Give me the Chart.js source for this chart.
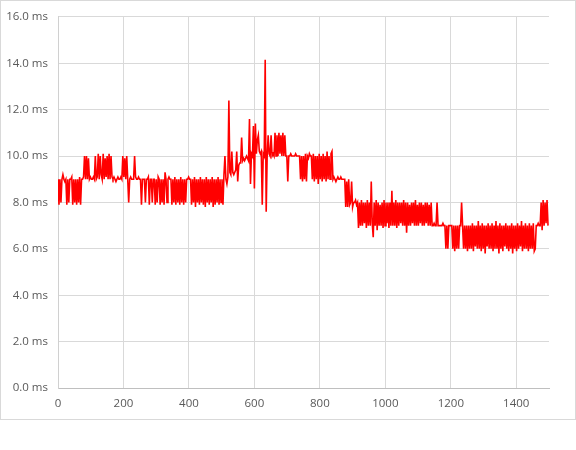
<!DOCTYPE html>
<html>
<head>
<meta charset="utf-8">
<script src="https://cdn.jsdelivr.net/npm/chart.js@4"></script>
<style>
  body { margin: 0; background: #fff; }
  #frame { position: absolute; left: 0; top: 0; width: 576px; height: 420px; box-sizing: border-box; border: 1px solid #d9d9d9; }
  #chart { position: absolute; left: 0; top: 0; }
</style>
</head>
<body>
<div id="frame"></div>
<canvas id="chart" width="576" height="450"></canvas>
<script>
// ===== DATA =====
// one reading every 3 samples (about one per pixel column)
const sampleStep = 3;
const latencyMs = [
  9.0, 7.9, 9.0, 8.0, 9.0, 9.2, 9.0, 8.9, 9.0, 7.9,
  9.0, 8.0, 9.0, 9.0, 9.1, 7.9, 9.0, 8.0, 9.0, 7.9,
  9.0, 8.0, 9.1, 7.9, 9.0, 9.0, 9.1, 10.0, 9.0, 10.0,
  9.0, 9.9, 9.0, 9.1, 9.0, 9.0, 9.1, 9.0, 10.0, 9.0,
  9.1, 10.1, 9.0, 10.0, 9.2, 9.0, 10.1, 9.0, 9.9, 9.1,
  10.0, 9.0, 10.1, 9.0, 10.0, 9.1, 9.0, 9.1, 9.0, 8.9,
  9.0, 9.1, 9.0, 9.0, 9.1, 9.0, 10.0, 9.1, 9.9, 9.0,
  10.0, 9.0, 8.0, 9.0, 9.1, 9.0, 9.0, 9.0, 10.0, 9.1,
  9.0, 9.0, 9.1, 9.0, 9.0, 7.9, 9.0, 9.0, 9.0, 8.0,
  9.0, 9.0, 9.1, 7.9, 9.0, 9.0, 8.0, 9.0, 9.0, 7.9,
  9.0, 8.0, 9.1, 9.0, 7.9, 9.0, 8.0, 9.0, 7.9, 9.3,
  9.0, 8.0, 9.0, 9.1, 9.0, 9.0, 7.9, 9.0, 8.0, 9.1,
  7.9, 9.0, 8.0, 9.0, 7.9, 9.1, 8.0, 9.0, 7.9, 9.0,
  8.0, 9.0, 9.0, 9.1, 9.0, 9.0, 7.9, 9.0, 8.0, 9.1,
  7.8, 9.0, 8.0, 9.0, 7.9, 9.1, 8.0, 9.0, 7.9, 9.0,
  7.8, 9.1, 8.0, 9.0, 7.9, 9.0, 8.0, 9.1, 7.8, 9.0,
  7.9, 9.0, 8.0, 9.1, 7.9, 9.0, 8.0, 9.0, 7.9, 9.2,
  10.0, 9.0, 8.8, 9.1, 12.4, 9.3, 9.2, 10.2, 9.3, 9.2,
  9.3, 9.4, 10.2, 8.9, 9.6, 9.7, 9.7, 10.8, 9.8, 9.9,
  9.8, 9.9, 10.0, 9.9, 9.8, 11.6, 8.8, 10.1, 10.0, 11.3,
  8.6, 11.4, 10.1, 10.7, 10.9, 10.2, 10.1, 10.2, 7.9, 10.1,
  10.0, 14.15, 7.6, 10.0, 10.9, 10.1, 10.0, 10.9, 10.0, 10.1,
  10.0, 11.0, 10.0, 10.9, 10.0, 11.0, 10.1, 10.9, 10.0, 11.0,
  10.0, 10.9, 10.0, 10.0, 8.9, 10.0, 10.0, 10.1, 10.0, 10.0,
  10.0, 10.0, 10.1, 10.0, 10.0, 10.0, 10.0, 9.0, 10.0, 8.9,
  10.0, 9.0, 10.1, 8.9, 10.0, 9.9, 10.1, 10.0, 10.0, 9.0,
  10.1, 8.9, 10.0, 9.0, 10.0, 8.8, 10.1, 9.0, 10.0, 8.9,
  10.1, 9.0, 10.0, 8.9, 10.2, 9.0, 10.0, 9.0, 10.1, 10.2,
  9.0, 9.1, 9.0, 8.9, 9.0, 9.1, 9.0, 9.0, 9.1, 9.0,
  9.0, 9.0, 9.0, 7.8, 8.9, 7.8, 9.0, 7.9, 8.0, 8.9,
  7.8, 8.0, 8.0, 8.1, 7.9, 8.0, 6.9, 8.0, 7.0, 8.1,
  7.0, 8.0, 7.1, 8.0, 6.9, 8.1, 7.0, 8.0, 7.0, 8.9,
  7.1, 6.5, 8.0, 7.0, 8.1, 6.8, 8.0, 7.0, 7.9, 7.0,
  8.0, 6.9, 8.1, 7.0, 8.0, 7.1, 8.0, 6.9, 8.0, 7.0,
  8.5, 7.0, 8.0, 7.0, 8.1, 6.9, 8.0, 7.0, 8.0, 7.1,
  8.0, 7.0, 8.1, 7.0, 8.0, 6.7, 8.0, 7.0, 7.9, 7.0,
  8.0, 7.1, 8.0, 7.0, 8.1, 7.0, 7.9, 7.0, 8.0, 7.1,
  8.0, 7.0, 7.9, 7.0, 8.0, 7.1, 8.0, 7.0, 7.9, 7.0,
  8.0, 7.0, 7.0, 7.1, 7.0, 7.0, 8.0, 7.0, 7.0, 7.0,
  7.0, 7.0, 7.1, 7.0, 7.0, 6.0, 7.0, 6.0, 7.0, 7.0,
  7.0, 7.0, 6.0, 7.0, 5.9, 7.0, 6.0, 7.0, 6.0, 7.0,
  7.0, 8.0, 7.0, 6.0, 7.0, 6.0, 7.0, 5.9, 7.0, 6.0,
  7.0, 6.0, 7.1, 5.9, 7.0, 6.1, 7.0, 6.0, 7.2, 6.0,
  7.0, 5.9, 7.1, 6.0, 7.0, 5.8, 7.0, 6.1, 7.1, 6.0,
  7.0, 6.0, 7.1, 5.9, 7.0, 6.0, 7.2, 6.0, 7.0, 5.8,
  7.1, 6.0, 7.0, 5.9, 7.0, 6.1, 7.1, 6.0, 7.0, 5.9,
  7.0, 6.0, 7.1, 5.8, 7.0, 6.0, 7.0, 5.9, 7.1, 6.0,
  7.0, 6.1, 7.2, 5.9, 7.0, 6.0, 7.1, 6.0, 7.0, 5.9,
  7.1, 6.0, 7.0, 6.0, 7.1, 5.9, 6.0, 7.0, 7.0, 7.1,
  7.0, 7.0, 8.0, 6.8, 8.1, 7.0, 8.0, 7.1, 8.1, 7.0
];
const xRange = [0, 1500];
const xTickStep = 200;
const yRange = [0, 16];
const yTickStep = 2;

// ===== CHART =====
const points = latencyMs.map((v, i) => ({ x: i * sampleStep, y: v }));
const tickFont = { family: 'Open Sans', size: 11.5 };

new Chart(document.getElementById('chart'), {
  type: 'line',
  data: {
    datasets: [{
      data: points,
      borderColor: '#ff0000',
      borderWidth: 1.6,
      borderJoinStyle: 'miter',
      pointRadius: 0,
      tension: 0,
      fill: false,
    }]
  },
  options: {
    responsive: false,
    animation: false,
    devicePixelRatio: 1,
    layout: { padding: { top: 14, right: 27, bottom: 32, left: 0 } },
    plugins: { legend: { display: false }, tooltip: { enabled: false } },
    scales: {
      x: {
        type: 'linear',
        min: xRange[0],
        max: xRange[1],
        afterFit: s => { s.height = 30; },
        ticks: { stepSize: xTickStep, includeBounds: false, padding: 9, color: '#595959', font: tickFont, maxRotation: 0, callback: v => String(v) },
        grid: { color: '#d9d9d9', drawTicks: false },
        border: { color: '#bfbfbf' },
      },
      y: {
        min: yRange[0],
        max: yRange[1],
        afterFit: s => { s.width = 58; },
        ticks: { stepSize: yTickStep, padding: 10, color: '#595959', font: tickFont, callback: v => v.toFixed(1) + ' ms' },
        grid: { color: '#d9d9d9', drawTicks: false },
        border: { color: '#d0d0d0' },
      }
    }
  }
});
</script>
</body>
</html>
